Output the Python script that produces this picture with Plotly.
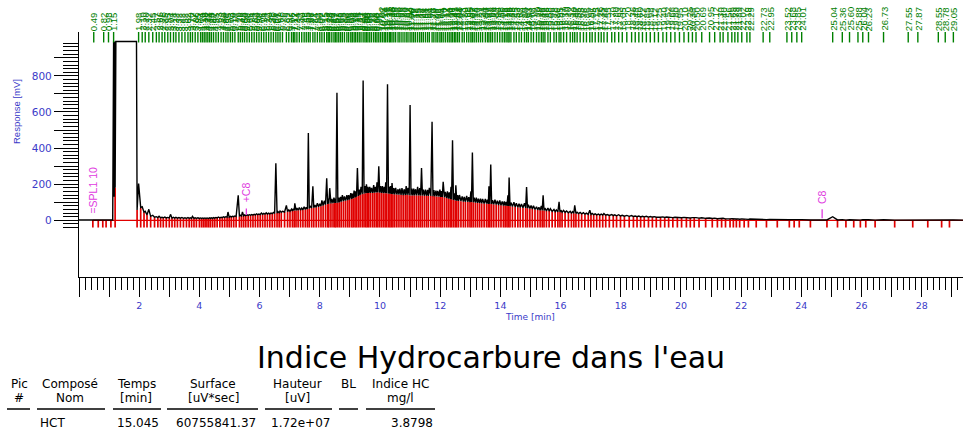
import plotly.graph_objects as go

# ---------------------------------------------------------------------------
# Chromatogram data (time in min, response in mV)
# ---------------------------------------------------------------------------
# Peak apexes; every apex carries a retention-time label at the top
apex_t = [
    0.49, 0.82, 0.98, 1.15, 1.98, 2.10, 2.20, 2.32, 2.45, 2.57,
    2.66, 2.76, 2.85, 2.95, 3.04, 3.14, 3.22, 3.32, 3.42, 3.52,
    3.62, 3.70, 3.77, 3.86, 3.95, 4.04, 4.10, 4.16, 4.22, 4.28,
    4.34, 4.40, 4.47, 4.55, 4.63, 4.72, 4.80, 4.88, 4.95, 5.03,
    5.10, 5.18, 5.29, 5.36, 5.43, 5.50, 5.58, 5.66, 5.74, 5.82,
    5.90, 5.98, 6.06, 6.14, 6.22, 6.30, 6.38, 6.46, 6.54, 6.61,
    6.68, 6.76, 6.89, 6.97, 7.06, 7.12, 7.17, 7.24, 7.32, 7.40,
    7.48, 7.55, 7.62, 7.68, 7.77, 7.84, 7.92, 8.00, 8.07, 8.15,
    8.23, 8.28, 8.33, 8.40, 8.47, 8.52, 8.57, 8.63, 8.69, 8.75,
    8.82, 8.90, 8.96, 9.03, 9.08, 9.14, 9.19, 9.25, 9.31, 9.37,
    9.44, 9.50, 9.55, 9.60, 9.66, 9.72, 9.79, 9.85, 9.90, 9.96,
    10.02, 10.08, 10.14, 10.19, 10.25, 10.31, 10.35, 10.40, 10.46, 10.52,
    10.60, 10.66, 10.73, 10.80, 10.87, 10.93, 11.00, 11.06, 11.12, 11.18,
    11.25, 11.32, 11.38, 11.44, 11.51, 11.58, 11.64, 11.73, 11.79, 11.86,
    11.92, 11.99, 12.04, 12.10, 12.17, 12.24, 12.30, 12.36, 12.41, 12.47,
    12.52, 12.58, 12.64, 12.73, 12.80, 12.88, 12.95, 13.02, 13.07, 13.13,
    13.20, 13.27, 13.34, 13.41, 13.50, 13.57, 13.62, 13.68, 13.74, 13.82,
    13.90, 13.98, 14.06, 14.13, 14.19, 14.25, 14.29, 14.35, 14.45, 14.53,
    14.62, 14.70, 14.80, 14.87, 14.93, 15.02, 15.10, 15.20, 15.28, 15.36,
    15.42, 15.48, 15.58, 15.66, 15.78, 15.86, 15.95, 16.01, 16.10, 16.20,
    16.32, 16.40, 16.47, 16.55, 16.65, 16.76, 16.86, 16.97, 17.05, 17.15,
    17.26, 17.35, 17.44, 17.55, 17.70, 17.80, 17.93, 18.05, 18.20, 18.36,
    18.48, 18.60, 18.72, 18.85, 18.98, 19.12, 19.25, 19.40, 19.52, 19.66,
    19.80, 19.95, 20.10, 20.25, 20.38, 20.50, 20.69, 20.95, 21.12, 21.30,
    21.40, 21.56, 21.69, 21.79, 21.89, 22.02, 22.19, 22.29, 22.73, 22.95,
    23.52, 23.68, 23.85, 24.01, 25.04, 25.36, 25.60, 25.88, 26.04, 26.23,
    26.73, 27.55, 27.87, 28.55, 28.78, 29.05,
]
apex_mv = [
    3, 3, 3, 990, 204, 75, 50, 61, 28, 20,
    22, 17, 18, 16, 33, 17, 17, 15, 16, 14,
    15, 14, 22, 14, 14, 13, 13, 13, 13, 13,
    14, 14, 15, 16, 18, 17, 19, 20, 46, 22,
    22, 24, 139, 28, 46, 30, 30, 31, 32, 33,
    36, 35, 40, 38, 42, 40, 40, 44, 316, 48,
    52, 50, 83, 58, 62, 64, 94, 68, 70, 68,
    75, 72, 483, 80, 189, 85, 95, 92, 110, 108,
    233, 120, 178, 118, 125, 120, 707, 125, 130, 139,
    132, 139, 140, 150, 148, 165, 160, 289, 170, 185,
    774, 190, 200, 185, 185, 180, 195, 185, 210, 300,
    190, 190, 185, 210, 754, 185, 190, 206, 178, 180,
    172, 175, 178, 172, 190, 180, 639, 175, 175, 172,
    185, 178, 289, 170, 170, 168, 180, 546, 168, 165,
    163, 170, 162, 213, 158, 160, 155, 185, 444, 150,
    194, 140, 140, 133, 130, 135, 128, 160, 375, 125,
    125, 120, 120, 118, 118, 115, 189, 309, 112, 115,
    108, 110, 105, 105, 102, 139, 237, 98, 100, 95,
    92, 90, 95, 185, 86, 82, 80, 75, 72, 80,
    139, 68, 68, 64, 60, 58, 102, 56, 55, 52,
    50, 48, 83, 45, 44, 42, 40, 56, 38, 36,
    35, 34, 37, 32, 32, 30, 31, 28, 27, 26,
    24, 24, 22, 22, 21, 20, 19, 19, 18, 18,
    17, 17, 16, 16, 15, 15, 14, 13, 12, 11,
    11, 10, 9, 9, 8, 8, 7, 7, 6, 5,
    4, 4, 4, 4, 20, 4, 3, 3, 3, 3,
    3, 2, 2, 2, 2, 2,
]

# Integration boundaries (valleys) where the baseline drop lines start
valley_t = [
    0.46, 0.64, 0.79, 0.90, 1.06, 1.20, 1.93, 2.05, 2.16, 2.26,
    2.38, 2.51, 2.62, 2.71, 2.80, 2.90, 3.00, 3.09, 3.18, 3.27,
    3.37, 3.47, 3.57, 3.66, 3.74, 3.82, 3.90, 4.00, 4.07, 4.13,
    4.19, 4.25, 4.31, 4.37, 4.44, 4.51, 4.59, 4.68, 4.76, 4.84,
    4.92, 4.99, 5.06, 5.14, 5.22, 5.33, 5.40, 5.47, 5.54, 5.62,
    5.70, 5.78, 5.86, 5.94, 6.02, 6.10, 6.18, 6.26, 6.34, 6.42,
    6.50, 6.58, 6.65, 6.72, 6.83, 6.93, 7.01, 7.09, 7.15, 7.21,
    7.28, 7.36, 7.44, 7.52, 7.59, 7.65, 7.73, 7.80, 7.88, 7.96,
    8.04, 8.11, 8.19, 8.26, 8.30, 8.37, 8.44, 8.50, 8.54, 8.60,
    8.66, 8.72, 8.79, 8.86, 8.93, 8.99, 9.06, 9.11, 9.17, 9.22,
    9.28, 9.34, 9.41, 9.47, 9.53, 9.58, 9.63, 9.69, 9.76, 9.82,
    9.88, 9.93, 9.99, 10.05, 10.11, 10.17, 10.22, 10.28, 10.33, 10.38,
    10.43, 10.49, 10.56, 10.63, 10.70, 10.77, 10.84, 10.90, 10.97, 11.03,
    11.09, 11.15, 11.22, 11.29, 11.35, 11.41, 11.48, 11.55, 11.61, 11.69,
    11.76, 11.82, 11.89, 11.96, 12.02, 12.07, 12.14, 12.21, 12.27, 12.33,
    12.38, 12.44, 12.50, 12.55, 12.61, 12.69, 12.77, 12.84, 12.92, 12.99,
    13.04, 13.10, 13.17, 13.24, 13.31, 13.38, 13.46, 13.54, 13.60, 13.65,
    13.71, 13.78, 13.86, 13.94, 14.02, 14.10, 14.16, 14.22, 14.27, 14.32,
    14.40, 14.49, 14.58, 14.66, 14.75, 14.84, 14.90, 14.98, 15.06, 15.15,
    15.24, 15.32, 15.39, 15.45, 15.53, 15.62, 15.72, 15.82, 15.91, 15.98,
    16.05, 16.15, 16.26, 16.36, 16.44, 16.51, 16.60, 16.70, 16.81, 16.92,
    17.01, 17.10, 17.20, 17.30, 17.40, 17.50, 17.62, 17.75, 17.86, 17.99,
    18.12, 18.28, 18.42, 18.54, 18.66, 18.78, 18.92, 19.05, 19.18, 19.32,
    19.46, 19.59, 19.73, 19.88, 20.02, 20.18, 20.31, 20.44, 20.60, 20.82,
    21.04, 21.21, 21.35, 21.48, 21.63, 21.74, 21.84, 21.95, 22.10, 22.24,
    22.50, 22.84, 23.20, 23.60, 23.76, 23.93, 24.30, 24.85, 25.20, 25.48,
    25.74, 25.96, 26.14, 26.45, 27.10, 27.70, 28.20, 28.66, 28.92,
]
valley_mv = [
    2, 2, 2, 2, 2, 180, 57, 70, 45, 30,
    22, 17, 15, 14, 14, 13, 13, 12, 12, 12,
    12, 11, 11, 11, 11, 11, 11, 10, 10, 10,
    10, 10, 10, 11, 11, 12, 13, 14, 15, 16,
    17, 18, 19, 20, 21, 22, 24, 25, 26, 27,
    28, 29, 30, 31, 32, 33, 34, 35, 36, 37,
    38, 40, 42, 44, 46, 48, 50, 52, 54, 55,
    56, 57, 58, 60, 62, 65, 68, 70, 72, 75,
    78, 82, 86, 90, 92, 94, 95, 96, 97, 98,
    100, 103, 106, 109, 112, 115, 118, 122, 126, 130,
    135, 140, 145, 148, 150, 152, 152, 152, 152, 153,
    154, 155, 153, 152, 150, 150, 150, 148, 147, 146,
    145, 144, 143, 142, 141, 140, 140, 140, 139, 138,
    138, 138, 138, 138, 137, 137, 136, 136, 135, 135,
    134, 133, 132, 131, 130, 129, 127, 124, 120, 118,
    116, 113, 110, 108, 107, 106, 104, 103, 102, 101,
    101, 100, 98, 97, 95, 94, 93, 92, 91, 91,
    90, 88, 87, 85, 83, 82, 81, 80, 80, 78,
    76, 74, 72, 71, 70, 69, 67, 65, 63, 60,
    58, 56, 55, 54, 52, 51, 49, 48, 47, 46,
    45, 44, 42, 40, 39, 38, 37, 36, 34, 33,
    32, 31, 30, 29, 29, 28, 27, 26, 25, 24,
    23, 22, 21, 20, 19, 19, 18, 18, 17, 17,
    16, 16, 15, 15, 14, 14, 13, 13, 12, 11,
    10, 9, 9, 8, 8, 7, 7, 6, 6, 5,
    5, 4, 3, 3, 3, 3, 2, 2, 2, 1,
    1, 1, 1, 1, 1, 1, 1, 1, 1,
]

# Other trace vertices: run start/end and the saturated solvent plateau
extra_t = [0.00, 1.12, 1.17, 1.185, 1.225, 1.91, 29.37]
extra_mv = [2, 2, 130, 990, 990, 990, 1]

# Event markers written on the trace
marker_t = [0.465, 5.56, 24.69]
marker_text = ["=SPL1 10", "+C8", "C8"]
marker_text_base = [29, 96, 85]
marker_tick_lo = [None, 30, 11]
marker_tick_hi = [None, 66, 61]

# Axis ticks
x_ticks = list(range(0, 30))
x_labels = [str(v) if v % 2 == 0 and v > 0 else "" for v in x_ticks]
x_minor = [i / 5 for i in range(0, 147) if i % 5 != 0]
y_ticks = list(range(0, 1000, 100))
y_labels = [str(v) if v % 200 == 0 else "" for v in y_ticks]
y_minor = [v for v in range(-40, 1000, 20) if v % 100 != 0]

# Result table
table_title = "Indice Hydrocarbure dans l'eau"
table_head1 = ["Pic", "Composé", "Temps", "Surface", "Hauteur", "BL", "Indice HC"]
table_head2 = ["#", "Nom", "[min]", "[uV*sec]", "[uV]", "", "mg/l"]
table_row = ["", "HCT", "15.045", "60755841.37", "1.72e+07", "", "3.8798"]

# ---------------------------------------------------------------------------
# Geometry / styling
# ---------------------------------------------------------------------------
W_FIG, H_FIG = 966, 430
L, T, PW, PH = 79, 32, 884, 245
X_RANGE = [0, 29.37]
Y_RANGE = [-314, 1043]
BLUE = "#3a3ac8"
GREEN = "#008000"
RED = "#e00000"
MAGENTA = "#e03ce0"
SANS = "DejaVu Sans"
ARIAL = "Liberation Sans, Arial"


def px(xp):
    return (xp - L) / PW


def py(yp):
    return (T + PH - yp) / PH


def text_at(xp, yp, txt, font, xanchor="center", angle=0):
    return dict(x=px(xp), y=py(yp), xref="paper", yref="paper", text=txt,
                xanchor=xanchor, yanchor="middle", textangle=angle,
                showarrow=False, font=font)


fig = go.Figure()

# red baseline
fig.add_trace(go.Scatter(x=[valley_t[0], extra_t[-1]], y=[0, 0], mode="lines",
                         line=dict(color=RED, width=1.2), hoverinfo="skip"))

# red drop lines at each integration boundary
rx, ry = [], []
for t, v in zip(valley_t, valley_mv):
    rx += [t, t, None]
    ry += [v, -40, None]
fig.add_trace(go.Scatter(x=rx, y=ry, mode="lines",
                         line=dict(color=RED, width=1.7), hoverinfo="skip"))

# signal trace
pts = sorted(zip(apex_t + valley_t + extra_t, apex_mv + valley_mv + extra_mv))
tx = [p[0] for p in pts]
ty = [p[1] for p in pts]
fig.add_trace(go.Scatter(x=tx, y=ty, mode="lines",
                         line=dict(color="black", width=1.4)))

# green peak marks at the top
gx, gy = [], []
for t in apex_t:
    gx += [t, t, None]
    gy += [985, Y_RANGE[1], None]
fig.add_trace(go.Scatter(x=gx, y=gy, mode="lines",
                         line=dict(color=GREEN, width=1.4), hoverinfo="skip"))

# magenta event ticks
mx, my = [], []
for t, lo, hi in zip(marker_t, marker_tick_lo, marker_tick_hi):
    if lo is not None:
        mx += [t, t, None]
        my += [lo, hi, None]
fig.add_trace(go.Scatter(x=mx, y=my, mode="lines",
                         line=dict(color=MAGENTA, width=1.3), hoverinfo="skip"))

ann = []
for t in apex_t:
    ann.append(dict(x=t, y=1, xref="x", yref="paper", text=f"{t:.2f}",
                    textangle=-90, xanchor="center", yanchor="bottom",
                    showarrow=False, borderpad=0,
                    font=dict(family=ARIAL, size=9.5, color=GREEN)))

for t, txt, base in zip(marker_t, marker_text, marker_text_base):
    ann.append(dict(x=t, y=base, xref="x", yref="y", text=txt,
                    textangle=-90, xanchor="center", yanchor="bottom",
                    showarrow=False, borderpad=0,
                    font=dict(family=ARIAL, size=10.5, color=MAGENTA)))

# axis titles
ann.append(text_at(16, 112, "Response [mV]",
                   dict(family=ARIAL, size=9.5, color=BLUE), angle=-90))
ann.append(text_at(530, 317, "Time [min]",
                   dict(family=SANS, size=9, color=BLUE)))

# title of the results block
ann.append(text_at(491, 357, table_title,
                   dict(family=SANS, size=30, color="black")))

# results table
col_center = [19, 70, 136, 213, 297, 348, 400]
col_span = [(7, 30), (37, 105), (113, 161), (167, 258), (265, 332), (339, 358), (366, 435)]
tfont = dict(family=SANS, size=12, color="black")
for i, c in enumerate(col_center):
    ann.append(text_at(c, 384, table_head1[i], tfont))
    if table_head2[i]:
        ann.append(text_at(c, 398, table_head2[i], tfont))
    if table_row[i]:
        if i == 1:
            ann.append(text_at(col_span[i][0] + 1, 423, table_row[i], tfont,
                               xanchor="left"))
        else:
            ann.append(text_at(col_span[i][1], 423, table_row[i], tfont,
                               xanchor="right"))

shapes = []
for a, b in col_span:
    shapes.append(dict(type="line", xref="paper", yref="paper",
                       x0=px(a), x1=px(b), y0=py(409), y1=py(409),
                       line=dict(color="black", width=1.5)))

fig.update_layout(
    width=W_FIG, height=H_FIG,
    margin=dict(l=L, r=W_FIG - L - PW, t=T, b=H_FIG - T - PH),
    plot_bgcolor="white", paper_bgcolor="white",
    showlegend=False,
    annotations=ann, shapes=shapes,
    xaxis=dict(range=X_RANGE, showgrid=False, zeroline=False,
               showline=True, linecolor="black", linewidth=1.3,
               ticks="outside", tickmode="array", tickvals=x_ticks,
               ticktext=x_labels, ticklen=19, tickwidth=1.2, tickcolor="black",
               tickfont=dict(family=SANS, size=9.5, color=BLUE),
               minor=dict(ticks="outside", tickmode="array", tickvals=x_minor,
                          ticklen=12, tickwidth=1, tickcolor="black")),
    yaxis=dict(range=Y_RANGE, showgrid=False, zeroline=False,
               showline=True, linecolor="black", linewidth=1.3,
               ticks="outside", tickmode="array", tickvals=y_ticks,
               ticktext=y_labels, ticklen=24, tickwidth=1.2, tickcolor="black",
               tickfont=dict(family=SANS, size=10.5, color=BLUE),
               minor=dict(ticks="outside", tickmode="array", tickvals=y_minor,
                          ticklen=15, tickwidth=1, tickcolor="black")),
)

fig.write_html("out.html")
